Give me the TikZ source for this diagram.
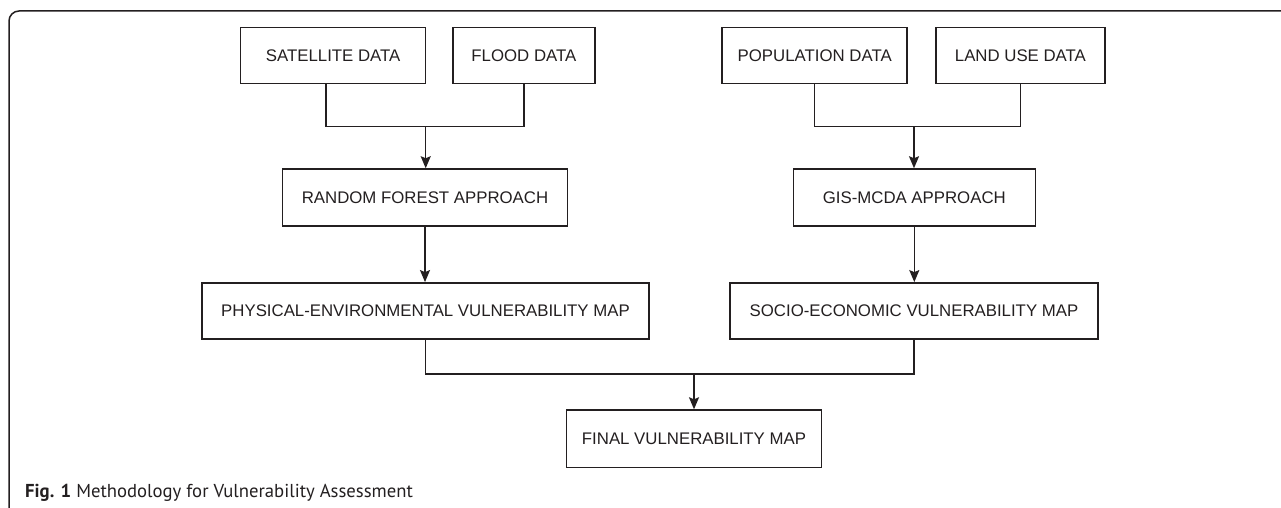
\documentclass[tikz,border=0pt]{standalone}
\usepackage{fontspec}
\setmainfont{Liberation Sans}
\newfontfamily\capfont{PT Sans}
\usetikzlibrary{arrows.meta}
\definecolor{ink}{HTML}{231F20}
\begin{document}
\begin{tikzpicture}[x=1pt,y=-1pt,
  box/.style={draw=ink,line width=1.5pt,inner sep=0pt,text=ink,
    font=\fontsize{16.8}{18}\selectfont},
  link/.style={draw=ink,line width=1.5pt},
  arr/.style={link,-{Stealth[length=12pt,width=10pt,inset=2pt]}}]
\useasboundingbox (0,0) rectangle (1281,508);
% frame
\draw[ink,line width=1.5pt,rounded corners=10pt] (9,508) -- (9,11) -- (1281,11);
% nodes
\node[box,minimum width=185pt,minimum height=56pt] (sat) at (333.2,55.4) {SATELLITE DATA};
\node[box,minimum width=142pt,minimum height=56pt] (flood) at (523.9,55.4) {FLOOD DATA};
\node[box,minimum width=185pt,minimum height=56pt] (pop) at (814.7,55.4) {POPULATION DATA};
\node[box,minimum width=169pt,minimum height=56pt] (land) at (1020.4,55.4) {LAND USE DATA};
\node[box,minimum width=284.6pt,minimum height=57pt] (rf) at (425,197.5) {RANDOM FOREST APPROACH};
\node[box,minimum width=242pt,minimum height=57pt] (gis) at (914.3,197.5) {GIS-MCDA APPROACH};
\node[box,minimum width=447pt,minimum height=56.3pt] (phys) at (425.5,311) {PHYSICAL-ENVIRONMENTAL VULNERABILITY MAP};
\node[box,minimum width=368pt,minimum height=56.3pt] (socio) at (914,311) {SOCIO-ECONOMIC VULNERABILITY MAP};
\node[box,minimum width=254.6pt,minimum height=57.3pt] (final) at (694,438.7) {FINAL VULNERABILITY MAP};
% junctions
\coordinate (sx) at (326,0);
\coordinate (px) at (814.3,0);
\coordinate (j1) at (425.7,126.7);
\coordinate (j2) at (914,126.7);
\coordinate (j3) at (694,374);
% connectors
\draw[link] (sat.south -| sx) |- (j1) -| (flood.south);
\draw[arr] (j1) -- (j1 |- rf.north);
\draw[link] (pop.south -| px) |- (j2) -| (land.south);
\draw[arr] (j2) -- (j2 |- gis.north);
\draw[arr] (rf.south) -- (rf.south |- phys.north);
\draw[arr] (gis.south) -- (gis.south |- socio.north);
\draw[link] (phys.south) |- (socio.south |- j3) -- (socio.south);
\draw[arr] (j3) -- (j3 |- final.north);
% caption
\node[anchor=west,inner sep=0pt,text=ink,font=\capfont\fontsize{18.7}{20}\selectfont] (cap) at (25,493) {\textbf{Fig. 1} Methodology for Vulnerability Assessment};
\end{tikzpicture}
\end{document}
